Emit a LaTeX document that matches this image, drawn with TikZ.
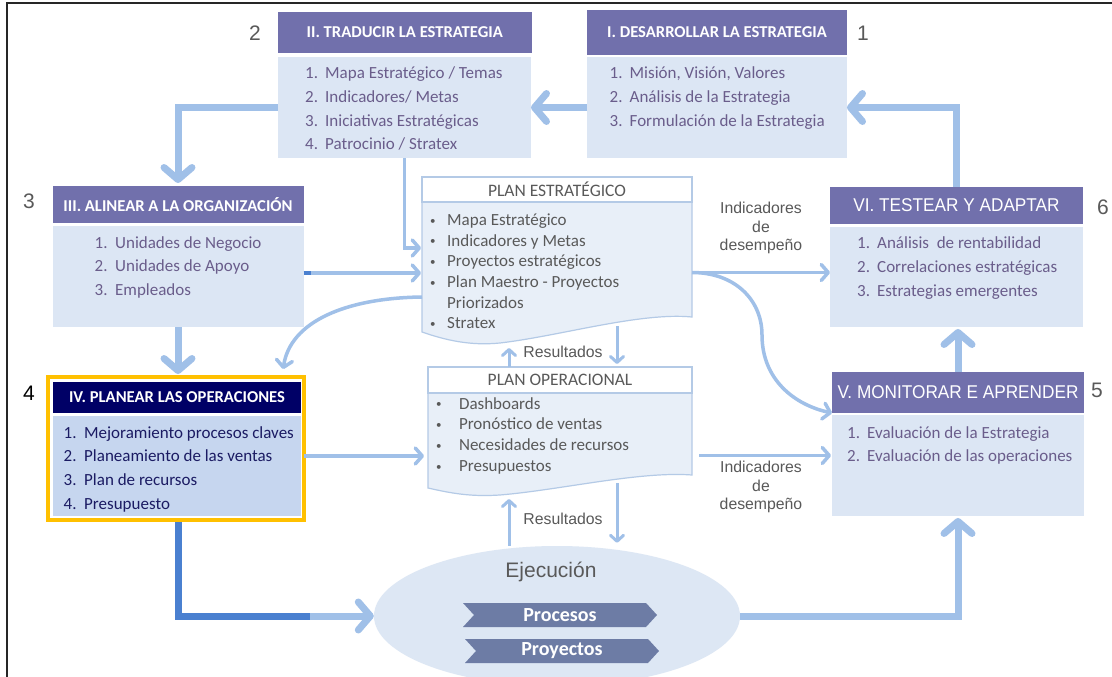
\documentclass[tikz,border=0pt]{standalone}
\usepackage{fontspec}
\setmainfont{Carlito}
\newfontfamily\arialf{Liberation Sans}
\newfontfamily\arialnarrow{Liberation Sans}[FakeStretch=0.93]
\usetikzlibrary{arrows.meta,shapes.geometric,shapes.symbols}

\definecolor{hdrpurple}{HTML}{7170AC}
\definecolor{hdrnavy}{HTML}{000066}
\definecolor{bodyblue}{HTML}{DCE6F4}
\definecolor{bodyiv}{HTML}{C6D6EF}
\definecolor{listtext}{HTML}{6A5D8B}
\definecolor{ivtext}{HTML}{1B1B63}
\definecolor{graytext}{HTML}{595959}
\definecolor{arrowlight}{HTML}{A0C0E8}
\definecolor{arrowdark}{HTML}{4A80D0}
\definecolor{planfill}{HTML}{E8EFF8}
\definecolor{planedge}{HTML}{B4CAE6}
\definecolor{chevfill}{HTML}{6D7CA5}
\definecolor{ellfill}{HTML}{DDE7F4}
\definecolor{gold}{HTML}{FFC000}

\newcommand\numbx[2][20pt]{\makebox[#1][l]{#2}}
\newcommand\bulbx[1][17pt]{\makebox[#1][l]{\raisebox{1.5pt}{\fontsize{11}{11}\selectfont\textbullet}}}

\begin{document}
\begin{tikzpicture}[x=1pt,y=-1pt,
  panel/.style={anchor=north west, inner sep=0pt, outer sep=0pt},
  hdr/.style={panel, fill=hdrpurple, text=white, font=\fontsize{16.6}{19}\selectfont\bfseries},
  hdrwide/.style={panel, fill=hdrpurple, text=white, font=\arialnarrow\fontsize{18.5}{21}\selectfont},
  body/.style={panel, fill=bodyblue},
  lst/.style={anchor=base west, inner sep=0pt, text=listtext, font=\fontsize{17}{23.6}\selectfont},
  plst/.style={anchor=base west, inner sep=0pt, text=graytext, font=\fontsize{17}{20.7}\selectfont},
  ptitle/.style={panel, draw=planedge, line width=1.2pt, fill=white, text=graytext, font=\fontsize{17.5}{20}\selectfont},
  planbody/.style={fill=planfill, draw=planedge, line width=1.2pt},
  lbl/.style={inner sep=1pt, align=center, text=graytext, font=\arialf\fontsize{15.8}{18.5}\selectfont},
  numlbl/.style={inner sep=0pt, text=graytext, font=\arialf\fontsize{21}{24}\selectfont},
  chev/.style={signal, signal to=east, signal from=west, signal pointer angle=95, fill=chevfill, text=white, inner sep=0pt, minimum width=194pt, minimum height=24pt, font=\fontsize{20}{22}\selectfont\bfseries},
  bigarrow/.style={draw=arrowlight, line width=7pt, -{Straight Barb[length=12pt,width=28pt,round]}},
  thinarrow/.style={draw=arrowlight, line width=3.5pt, -{Straight Barb[length=7pt,width=16pt,round]}},
  resarrow/.style={draw=arrowlight, line width=3pt, -{Straight Barb[length=6pt,width=13pt,round]}},
]
\useasboundingbox (0,0) rectangle (1112,677);
\fill[white] (0,0) rectangle (1112,677);

% outer frame
\draw[line width=2pt, black!85] (7,677) -- (7,3.5) -- (1112,3.5);

% I. Desarrollar
\node[hdr, minimum width=260pt, minimum height=45pt] (h1) at (587,10) {I. DESARROLLAR LA ESTRATEGIA};
\node[body, minimum width=260pt, minimum height=101pt] (b1) at (587,57) {};
\node[lst] (t1) at (609.5,79) {\begin{tabular}[t]{@{}l@{}}
  \numbx{1.}Misión, Visión, Valores\\
  \numbx{2.}Análisis de la Estrategia\\
  \numbx{3.}Formulación de la Estrategia\end{tabular}};

% II. Traducir
\node[hdr, minimum width=254.5pt, minimum height=41pt] (h2) at (277.5,12) {II. TRADUCIR LA ESTRATEGIA};
\node[body, minimum width=253.5pt, minimum height=101pt] (b2) at (277.5,57) {};
\node[lst] (t2) at (305,79) {\begin{tabular}[t]{@{}l@{}}
  \numbx{1.}Mapa Estratégico / Temas\\
  \numbx{2.}Indicadores/ Metas\\
  \numbx{3.}Iniciativas Estratégicas\\
  \numbx{4.}Patrocinio / Stratex\end{tabular}};

% III. Alinear
\node[hdr, minimum width=251pt, minimum height=37pt] (h3) at (52.5,186) {III. ALINEAR A LA ORGANIZACIÓN};
\node[body, minimum width=251pt, minimum height=101pt] (b3) at (52.5,226) {};
\node[lst] (t3) at (94.5,248) {\begin{tabular}[t]{@{}l@{}}
  \numbx[20.5pt]{1.}Unidades de Negocio\\
  \numbx[20.5pt]{2.}Unidades de Apoyo\\
  \numbx[20.5pt]{3.}Empleados\end{tabular}};

% VI. Testear
\node[hdrwide, minimum width=253pt, minimum height=37pt] (h6) at (830,187) {VI. TESTEAR Y ADAPTAR};
\node[body, minimum width=253pt, minimum height=100pt] (b6) at (830,227) {};
\node[lst, font=\fontsize{17}{24.3}\selectfont] (t6) at (857,248) {\begin{tabular}[t]{@{}l@{}}
  \numbx{1.}Análisis\ \ de rentabilidad\\
  \numbx{2.}Correlaciones estratégicas\\
  \numbx{3.}Estrategias emergentes\end{tabular}};

% IV. Planear (highlighted)
\node[panel, draw=gold, line width=4pt, minimum width=256pt, minimum height=143pt] (fr4) at (48,377) {};
\node[hdr, fill=hdrnavy, minimum width=248pt, minimum height=31pt] (h4) at (53,382) {IV. PLANEAR LAS OPERACIONES};
\node[body, fill=bodyiv, minimum width=248pt, minimum height=100pt] (b4) at (53,416) {};
\node[lst, text=ivtext, font=\fontsize{17}{23.7}\selectfont] (t4) at (63.5,438) {\begin{tabular}[t]{@{}l@{}}
  \numbx[20.5pt]{1.}Mejoramiento procesos claves\\
  \numbx[20.5pt]{2.}Planeamiento de las ventas\\
  \numbx[20.5pt]{3.}Plan de recursos\\
  \numbx[20.5pt]{4.}Presupuesto\end{tabular}};

% V. Monitorar
\node[hdrwide, minimum width=252pt, minimum height=41pt] (h5) at (832,372) {V. MONITORAR E APRENDER};
\node[body, minimum width=252pt, minimum height=101pt] (b5) at (832,415) {};
\node[lst] (t5) at (847,438) {\begin{tabular}[t]{@{}l@{}}
  \numbx{1.}Evaluación de la Estrategia\\
  \numbx{2.}Evaluación de las operaciones\end{tabular}};

% Plan estrategico (document shape)
\path[planbody] (422,202) -- (692,202) -- (692,317)
  .. controls (640,312) and (560,336) .. (500,343)
  .. controls (470,346) and (445,340) .. (422,332) -- cycle;
\node[panel, minimum width=270pt, minimum height=141pt] (pe) at (422,202) {};
\node[ptitle, minimum width=270pt, minimum height=25pt] (pet) at (422,177) {PLAN ESTRATÉGICO};
\node[plst] (tpe) at (430,225.5) {\begin{tabular}[t]{@{}l@{}}
  \bulbx Mapa Estratégico\\
  \bulbx Indicadores y Metas\\
  \bulbx Proyectos estratégicos\\
  \bulbx Plan Maestro - Proyectos\\
  \makebox[17pt]{}Priorizados\\
  \bulbx Stratex\end{tabular}};

% Plan operacional (document shape)
\path[planbody] (428,393) -- (692,393) -- (692,475)
  .. controls (640,471) and (560,490) .. (500,495)
  .. controls (470,497) and (450,493) .. (428,488) -- cycle;
\node[panel, minimum width=264pt, minimum height=102pt] (po) at (428,393) {};
\node[ptitle, minimum width=264pt, minimum height=26pt] (pot) at (428,367) {PLAN OPERACIONAL};
\node[plst, font=\fontsize{17}{20.9}\selectfont] (tpo) at (436,409) {\begin{tabular}[t]{@{}l@{}}
  \bulbx[19pt] Dashboards\\
  \bulbx[19pt] Pronóstico de ventas\\
  \bulbx[19pt] Necesidades de recursos\\
  \bulbx[19pt] Presupuestos\end{tabular}};

% Ejecucion
\node[ellipse, fill=ellfill, inner sep=0pt, minimum width=366pt, minimum height=140pt] (ex) at (557,616) {};
\node[inner sep=0pt, text=graytext, font=\arialf\fontsize{21}{24}\selectfont] (ejec) at (551,572) {Ejecución};
\node[chev] (proc) at (560,615) {Procesos};
\node[chev] (proy) at (562,651) {Proyectos};

% step numbers
\node[numlbl] (n1) at (863,33) {1};
\node[numlbl] (n2) at (255,33) {2};
\node[numlbl] (n3) at (29,201) {3};
\node[numlbl, text=black] (n4) at (29,393) {4};
\node[numlbl] (n5) at (1097,390) {5};
\node[numlbl] (n6) at (1103,207) {6};

% edge labels
\node[lbl] (ind1) at (761,228) {Indicadores\\de\\desempeño};
\node[lbl] (ind2) at (761,487) {Indicadores\\de\\desempeño};
\node[lbl] (res1) at (563,352) {Resultados};
\node[lbl] (res2) at (563,519) {Resultados};

% helper anchors for connectors
\coordinate (pein1) at ([yshift=24.5pt]pe.west);
\coordinate (pecurve) at ([yshift=-24.5pt]pe.west);
\coordinate (c3) at ([yshift=3.5pt]b3.east);
\coordinate (fr4c) at ([xshift=-22pt]fr4.north east);
\coordinate (c4) at ([yshift=-7.5pt]fr4.east);
\coordinate (c5) at ([yshift=-11.5pt]po.east);
\coordinate (ru1) at ([xshift=-51pt]pot.north);
\coordinate (rd1) at ([xshift=57pt]pot.north);
\coordinate (ru2) at ([xshift=-48pt]ex.north);
\coordinate (rd2) at ([xshift=60pt]ex.north);
\path (rd1 |- pe.south) ++(0,-17) coordinate (rd1s);
\path (rd2 |- po.south) ++(0,-12) coordinate (rd2s);
\coordinate (iv0) at ([xshift=2.5pt,yshift=-2pt]fr4.south);
\coordinate (dk) at ([xshift=-64pt]ex.west);

% cycle connectors
\draw[bigarrow] (b1.west) -- (b2.east);
\draw[bigarrow, shorten >=3pt] (b2.west) -| (h3.north);
\draw[bigarrow, shorten >=3pt] (b3.south) -- (b3.south |- fr4.north);
\draw[bigarrow] (iv0) |- (ex.west);
\draw[line width=7pt, arrowdark] (iv0) |- (dk);
\draw[bigarrow, shorten >=2pt] (ex.east) -| (b5.south);
\draw[bigarrow, shorten >=2pt] (h5.north) -- (h5.north |- b6.south);
\draw[bigarrow] (h6.north) |- (b1.east);

% plan connectors
\draw[thinarrow, shorten >=1pt] (b2.south) |- (pein1);
\draw[thinarrow, shorten >=1pt] (c3) -- (c3 -| pe.west);
\draw[line width=3.5pt, arrowdark] (c3) -- ([xshift=7pt]c3);
\draw[thinarrow, shorten >=8pt] (pecurve) .. controls (345,298) and (290,322) .. (fr4c);
\draw[thinarrow] (pe.east) -- (pe.east -| b6.west);
\draw[thinarrow] (pe.east) .. controls (735,272.5) and (762,300) .. (762,335)
  .. controls (762,380) and (795,405) .. (h5.south west);
\draw[thinarrow, shorten >=4pt] (c4) -- (c4 -| po.west);
\draw[thinarrow, shorten <=7pt, shorten >=1pt] (c5) -- (c5 -| b5.west);

% results loops
\draw[resarrow, shorten >=5pt] (ru1) -- (ru1 |- pe.south);
\draw[resarrow, shorten >=3pt] (rd1s) -- (rd1);
\draw[resarrow, shorten >=4pt] (ru2) -- (ru2 |- po.south);
\draw[resarrow, shorten >=3pt] (rd2s) -- (rd2);
\end{tikzpicture}
\end{document}
